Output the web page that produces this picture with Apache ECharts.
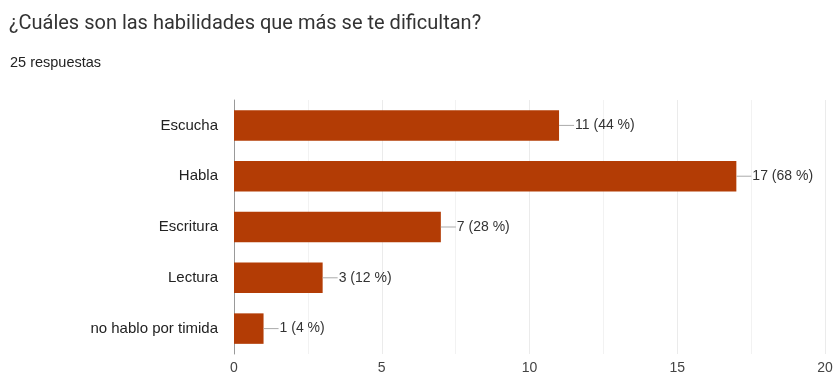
<!DOCTYPE html>
<html><head><meta charset="utf-8">
<script src="https://cdn.jsdelivr.net/npm/echarts@6/dist/echarts.min.js"></script>
<style>html,body{margin:0;padding:0;background:#fff}#c{width:836px;height:377px}</style>
</head><body><div id="c"></div>
<script>
const categories = ['Escucha', 'Habla', 'Escritura', 'Lectura', 'no hablo por timida'];
const values = [11, 17, 7, 3, 1];
const percents = ['44 %', '68 %', '28 %', '12 %', '4 %'];
const xTicks = [0, 5, 10, 15, 20];

const chart = echarts.init(document.getElementById('c'));
chart.setOption({
  animation: false,
  title: [
    {text: '¿Cuáles son las habilidades que más se te dificultan?', left: 4, top: 9,
     textStyle: {fontFamily: 'Roboto', fontSize: 20, fontWeight: 'normal', color: '#333'}},
    {text: '25 respuestas', left: 5, top: 50,
     textStyle: {fontFamily: 'Arial', fontSize: 14.5, fontWeight: 'normal', color: '#222'}}
  ],
  grid: {left: 234, right: 11, top: 100, bottom: 23, containLabel: false},
  xAxis: {
    type: 'value', min: xTicks[0], max: xTicks[xTicks.length - 1], interval: 5,
    axisLine: {show: false}, axisTick: {show: false},
    axisLabel: {color: '#444', fontFamily: 'Arial', fontSize: 14, margin: 7},
    splitLine: {lineStyle: {color: '#ebebeb'}},
    minorTick: {show: false, splitNumber: 2},
    minorSplitLine: {show: true, lineStyle: {color: '#f2f2f2'}}
  },
  yAxis: {
    type: 'category', data: categories, inverse: true,
    axisLine: {show: true, lineStyle: {color: '#999'}},
    axisTick: {show: false},
    axisLabel: {color: '#222', fontFamily: 'Arial', fontSize: 15, margin: 16}
  },
  series: [{
    type: 'bar', data: values, barWidth: '60%',
    itemStyle: {color: '#b33c05'},
    label: {
      show: true, position: 'right', distance: 0,
      formatter: p => '{l|}{v|' + p.value + ' (' + percents[p.dataIndex] + ')}',
      rich: {
        l: {width: 15, height: 1, backgroundColor: '#aaa'},
        v: {color: '#333', fontFamily: 'Arial', fontSize: 14, padding: [0, 0, 0, 1]}
      }
    }
  }]
});
</script></body></html>
